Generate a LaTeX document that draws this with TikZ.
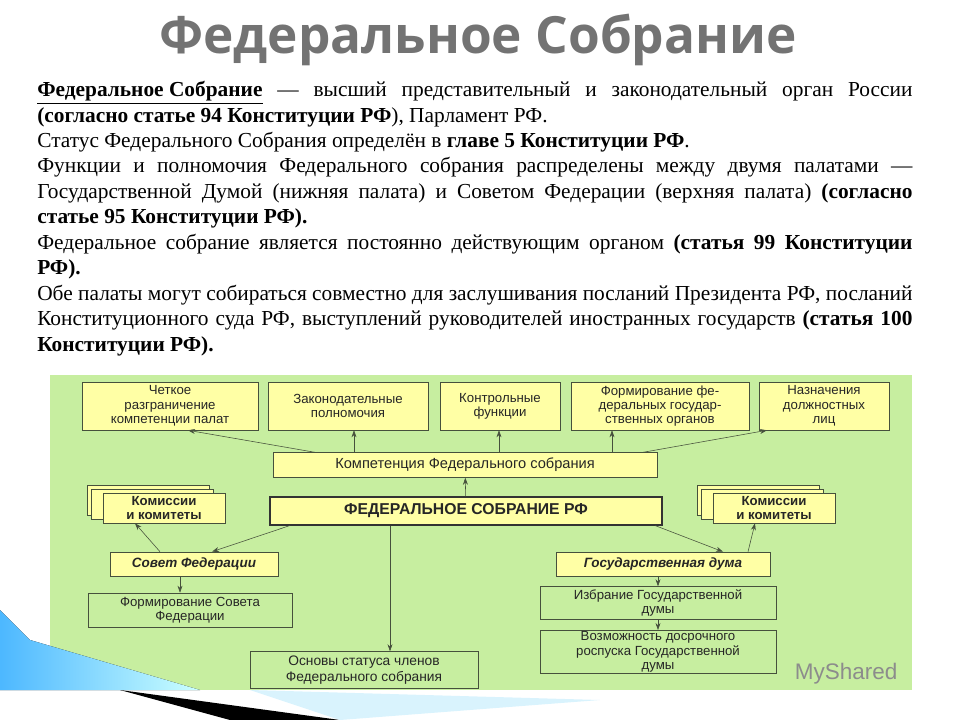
\documentclass[tikz,border=0pt]{standalone}
\usepackage{fontspec}
\setmainfont{Liberation Serif}
\newfontfamily\boxfont{Liberation Sans}
\newfontfamily\titlefont{Open Sans}
\usetikzlibrary{arrows.meta,shadows}
\definecolor{panel}{RGB}{199,238,160}
\definecolor{boxfill}{RGB}{255,255,165}
\definecolor{line}{RGB}{70,80,60}

\begin{document}
\begin{tikzpicture}[x=0.025cm, y=-0.025cm,
    box/.style={rectangle, draw=line, fill=boxfill, inner sep=1pt, align=center,
        font=\boxfont\fontsize{9.4}{10.2}\selectfont, text=black!85},
    lowbox/.style={box, fill=panel},
    house/.style={box, font=\boxfont\bfseries\itshape\fontsize{9.6}{10}\selectfont},
    every edge/.style={draw=line, -{Stealth[length=5pt,width=3.5pt]}, thin}
]
\useasboundingbox (0,0) rectangle (960,720);

% Title
\node[font=\titlefont\bfseries\fontsize{36.5}{40}\selectfont, text=black!55] (title) at (478,40) {Федеральное Собрание};

% Text
\node[anchor=north west, inner sep=0pt, text width=21.875cm, align=justify,
      font=\fontsize{15.2}{18.1}\selectfont] (intro) at (37,81) {%
\underline{\textbf{Федеральное Собрание}} — высший представительный и законодательный орган России \textbf{(согласно статье 94 Конституции РФ}), Парламент РФ.\par
Статус Федерального Собрания определён в \textbf{главе 5 Конституции РФ}.\par
Функции и полномочия Федерального собрания распределены между двумя палатами — Государственной Думой (нижняя палата) и Советом Федерации (верхняя палата) \textbf{(согласно статье 95 Конституции РФ).}\par
Федеральное собрание является постоянно действующим органом \textbf{(статья 99 Конституции\linebreak РФ).}\par
Обе палаты могут собираться совместно для заслушивания посланий Президента РФ, посланий Конституционного суда РФ, выступлений руководителей иностранных государств \textbf{(статья 100 Конституции РФ).}};

% Panel
\fill[panel] (50,375) rectangle (912,690);

% Top row
\node[box, minimum width=4.4cm, minimum height=1.2cm] (split) at (170,406) {Четкое\\разграничение\\компетенции палат};
\node[box, minimum width=4.0cm, minimum height=1.2cm] (law) at (348,406) {Законодательные\\полномочия};
\node[box, minimum width=3.0cm, minimum height=1.2cm] (ctrl) at (500,406) {Контрольные\\функции};
\node[box, minimum width=4.45cm, minimum height=1.2cm] (form) at (660,406) {Формирование фе-\\деральных государ-\\ственных органов};
\node[box, minimum width=3.25cm, minimum height=1.2cm] (appoint) at (824,406) {Назначения\\должностных\\лиц};

\node[box, minimum width=9.6cm, minimum height=0.62cm, font=\boxfont\fontsize{10.4}{11}\selectfont] (comp) at (465,465) {Компетенция Федерального собрания};
\node[box, draw=black!80, line width=1.3pt, minimum width=9.8cm, minimum height=0.68cm,
      font=\boxfont\bfseries\fontsize{11.2}{12}\selectfont] (fs) at (466,511) {ФЕДЕРАЛЬНОЕ СОБРАНИЕ РФ};

% Commissions (stacked)
\foreach \dx/\nm in {95/cl, 705/cr} {
  \foreach \s in {8,4} \node[box, minimum width=3.05cm, minimum height=0.75cm] at (\dx+61-\s,508-\s) {};
}
\node[box, minimum width=3.05cm, minimum height=0.75cm, font=\boxfont\bfseries\fontsize{9.4}{10.2}\selectfont] (comL) at (164,508) {Комиссии\\и комитеты};
\node[box, minimum width=3.05cm, minimum height=0.75cm, font=\boxfont\bfseries\fontsize{9.4}{10.2}\selectfont] (comR) at (774,508) {Комиссии\\и комитеты};

% Chambers
\node[house, minimum width=4.2cm, minimum height=0.6cm] (sf) at (194,564) {Совет Федерации};
\node[house, minimum width=5.35cm, minimum height=0.6cm] (gd) at (663,564) {Государственная дума};

\node[lowbox, minimum width=5.1cm, minimum height=0.85cm] (sfform) at (190,610) {Формирование Совета\\Федерации};
\node[lowbox, minimum width=5.9cm, minimum height=0.82cm] (gdelect) at (658,603) {Избрание Государственной\\думы};
\node[lowbox, minimum width=5.9cm, minimum height=1.02cm] (gddiss) at (658,652) {Возможность досрочного\\роспуска Государственной\\думы};
\node[lowbox, minimum width=5.7cm, minimum height=0.92cm, font=\boxfont\fontsize{9.8}{11}\selectfont] (status) at (364,670) {Основы статуса членов\\Федерального собрания};

% Connections
\path (comp.north -| 315,0) edge (split.south -| 188,0)
      (comp.north -| 354,0) edge (law.south -| 354,0)
      (comp.north -| 499,0) edge (ctrl.south -| 499,0)
      (comp.north -| 612,0) edge (form.south -| 612,0)
      (comp.north -| 643,0) edge (appoint.south -| 767,0);
\path (fs) edge (comp);
\path (fs.south -| 290,0) edge (sf.north -| 212,0)
      (fs.south -| 390,0) edge (status.north -| 390,0)
      (fs.south -| 655,0) edge (gd.north -| 723,0);
\path (sf.north -| 160,0) edge (comL.south -| 135,0)
      (gd.north -| 748,0) edge (comR.south -| 755,0);
\path (sf.south -| 180,0) edge (sfform.north -| 180,0)
      (gd.south -| 658,0) edge (gdelect)
      (gdelect) edge (gddiss);

% Watermark
\node[font=\boxfont\fontsize{16}{18}\selectfont, text=black!45, anchor=west] (mark) at (790,674) {MyShared};

% Decoration
\fill[left color=cyan!60!blue!70, right color=cyan!20] (0,690) -- (0,610) -- (30,640) -- (200,690) -- cycle;
\fill[black] (120,690) -- (340,720) -- (230,720) -- cycle;
\fill[cyan!15] (250,690) -- (600,700) -- (340,720) -- cycle;
\end{tikzpicture}
\end{document}
